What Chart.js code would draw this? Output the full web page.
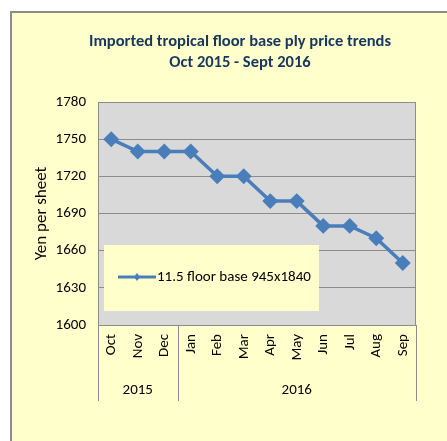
<!DOCTYPE html>
<html>
<head>
<meta charset="utf-8">
<script src="https://cdn.jsdelivr.net/npm/chart.js@4"></script>
<style>
  html, body { margin: 0; padding: 0; background: #ffffff; }
  canvas { display: block; }
</style>
</head>
<body>
<canvas id="plyChart" width="447" height="441"></canvas>
<script>
// chart data
const months = ["Oct", "Nov", "Dec", "Jan", "Feb", "Mar", "Apr", "May", "Jun", "Jul", "Aug", "Sep"];
const years = ["2015", "2016"];
const yearSpans = [3, 9];
const prices = [1750, 1740, 1740, 1740, 1720, 1720, 1700, 1700, 1680, 1680, 1670, 1650];
const seriesName = "11.5 floor base 945x1840";
const titleLines = ["Imported tropical floor base ply price trends", "Oct 2015 - Sept 2016"];

const FONT = "Carlito, 'Liberation Sans Narrow', 'Liberation Sans', sans-serif";
const lineColor = "#4a7ebb";

// yellow box, gray plot area, title, legend and year groups
const decor = {
	id: "decor",
	beforeDraw(chart) {
		const ctx = chart.ctx;
		const a = chart.chartArea;
		ctx.save();
		ctx.fillStyle = "#ffffcc";
		ctx.fillRect(11, 12, chart.width - 11, chart.height - 12);
		ctx.strokeStyle = "#8c8c8c";
		ctx.lineWidth = 2;
		ctx.beginPath();
		ctx.moveTo(11, chart.height);
		ctx.lineTo(11, 12);
		ctx.lineTo(chart.width, 12);
		ctx.stroke();
		ctx.fillStyle = "#d9d9d9";
		ctx.fillRect(a.left, a.top, a.right - a.left, a.bottom - a.top);
		ctx.restore();
	},
	afterDatasetsDraw(chart) {
		const ctx = chart.ctx;
		const a = chart.chartArea;
		const x = chart.scales.x;
		ctx.save();
		// plot border
		ctx.strokeStyle = "#8c8c8c";
		ctx.lineWidth = 1;
		ctx.strokeRect(a.left + 0.5, a.top + 0.5, a.right - a.left - 1, a.bottom - a.top);

		// year group lines and labels
		const step = (a.right - a.left) / months.length;
		let start = 0;
		ctx.beginPath();
		ctx.moveTo(a.left + 0.5, a.bottom);
		ctx.lineTo(a.left + 0.5, 401);
		ctx.stroke();
		ctx.fillStyle = "#000";
		ctx.font = "15px " + FONT;
		ctx.textAlign = "center";
		ctx.textBaseline = "middle";
		years.forEach((yr, i) => {
			const end = start + yearSpans[i];
			const xe = Math.round(a.left + step * end) + 0.5;
			ctx.beginPath();
			ctx.moveTo(xe, a.bottom);
			ctx.lineTo(xe, 401);
			ctx.stroke();
			const xc = (x.getPixelForValue(start) + x.getPixelForValue(end - 1)) / 2;
			ctx.fillText(yr, xc, 390);
			start = end;
		});

		// legend
		ctx.fillStyle = "#ffffcc";
		ctx.fillRect(104, 245, 215, 66);
		ctx.strokeStyle = lineColor;
		ctx.lineWidth = 3;
		ctx.beginPath();
		ctx.moveTo(118, 277);
		ctx.lineTo(156, 277);
		ctx.stroke();
		ctx.fillStyle = lineColor;
		ctx.beginPath();
		ctx.moveTo(137, 273);
		ctx.lineTo(140, 277);
		ctx.lineTo(137, 281);
		ctx.lineTo(134, 277);
		ctx.closePath();
		ctx.fill();
		ctx.fillStyle = "#000";
		ctx.textAlign = "left";
		ctx.font = "15px " + FONT;
		ctx.fillText(seriesName, 157, 277);

		// title
		ctx.fillStyle = "#17375e";
		ctx.font = "bold 16.5px " + FONT;
		ctx.textAlign = "center";
		ctx.fillText(titleLines[0], 240, 42);
		ctx.fillText(titleLines[1], 240, 63);
		ctx.restore();
	}
};

new Chart(document.getElementById("plyChart"), {
	type: "line",
	data: {
		labels: months,
		datasets: [
			{
				label: seriesName,
				data: prices,
				borderColor: lineColor,
				backgroundColor: lineColor,
				borderWidth: 3.5,
				pointStyle: "rectRot",
				pointRadius: 5.5,
				pointHoverRadius: 5.5,
				tension: 0,
			},
		],
	},
	options: {
		responsive: false,
		animation: false,
		layout: {
			padding: { left: 20, top: 102, right: 31, bottom: 0 },
		},
		plugins: {
			legend: { display: false },
			title: { display: false },
			tooltip: { enabled: false },
		},
		scales: {
			x: {
				offset: true,
				grid: { display: false, drawTicks: false },
				border: { display: false },
				ticks: {
					minRotation: 90,
					maxRotation: 90,
					padding: 9,
					color: "#000",
					font: { family: FONT, size: 15 },
				},
				afterFit: s => { s.height = 116; },
			},
			y: {
				min: 1600,
				max: 1780,
				grid: { color: "#8c8c8c", drawTicks: false },
				border: { display: false },
				ticks: {
					stepSize: 30,
					padding: 12,
					color: "#000",
					font: { family: FONT, size: 15 },
					callback: v => String(v),
				},
				title: {
					display: true,
					text: "Yen per sheet",
					color: "#000",
					padding: { top: 12, bottom: 0 },
					font: { family: FONT, size: 17 },
				},
				afterFit: s => { s.width = 78; },
			},
		},
	},
	plugins: [decor],
});
</script>
</body>
</html>
